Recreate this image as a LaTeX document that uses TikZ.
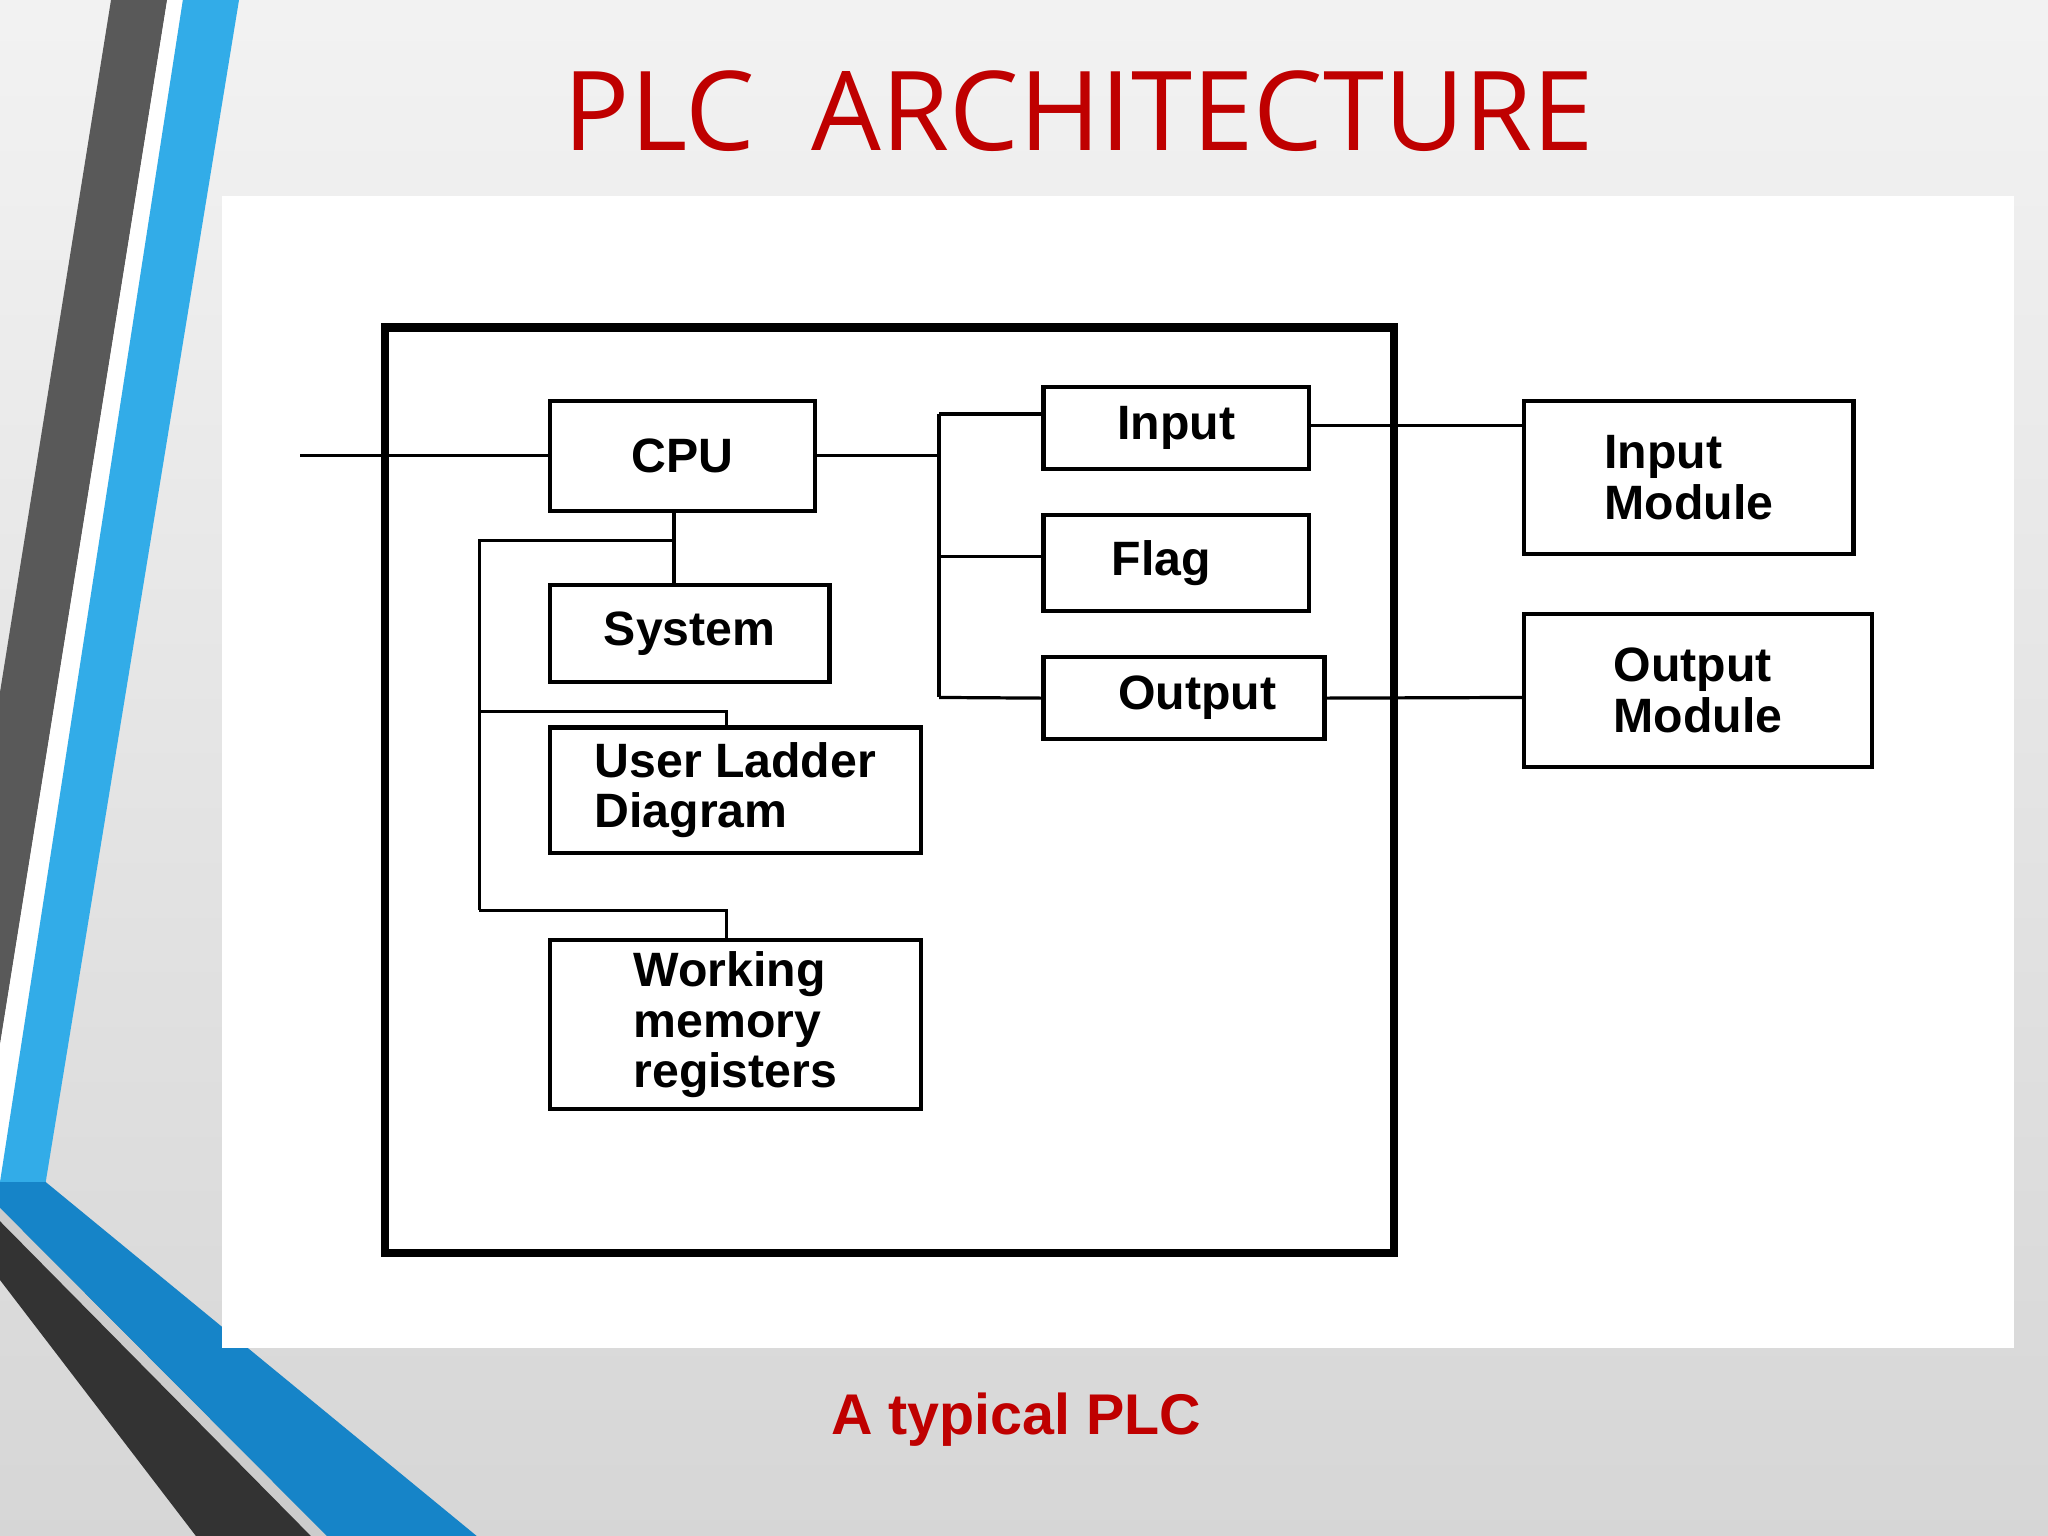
\documentclass[tikz,border=0pt]{standalone}
\usepackage{fontspec}
\setmainfont{Liberation Sans}
\newfontfamily\titlefont{Open Sans}
\definecolor{lblue}{RGB}{50,172,232}
\definecolor{dblue}{RGB}{22,132,200}
\begin{document}
\begin{tikzpicture}[x=0.01cm,y=-0.01cm,
  box/.style={draw,line width=0.9pt,inner sep=0pt,font=\bfseries\fontsize{10.5}{11}\selectfont,align=left},
  ln/.style={line width=0.7pt}]
\useasboundingbox (0,0) rectangle (1568,1176);
\shade[top color=white!95!black,bottom color=black!16] (0,0) rectangle (1568,1176);
% left decoration
\fill[black!65] (85,0) -- (128,0) -- (0,800) -- (0,530) -- cycle;
\fill[white] (128,0) -- (140,0) -- (5,905) -- (0,905) -- (0,800) -- cycle;
\fill[lblue] (140,0) -- (183,0) -- (35,905) -- (0,905) -- cycle;
\fill[dblue] (0,905) -- (35,905) -- (365,1176) -- (250,1176) -- (0,925) -- cycle;
\fill[white!80!black] (0,925) -- (250,1176) -- (238,1176) -- (0,935) -- cycle;
\fill[black!80] (0,935) -- (238,1176) -- (150,1176) -- (0,980) -- cycle;
% panel
\fill[white] (170,150) rectangle (1542,1032);
\node[font=\titlefont\fontsize{24}{28}\selectfont,text=red!75!black] (title) at (826,85) {PLC\ \ ARCHITECTURE};
\node[font=\bfseries\fontsize{12.5}{14}\selectfont,text=red!75!black] (cap) at (778,1087) {A typical PLC};
\node[draw,line width=1.8pt,minimum width=7.72cm,minimum height=7.08cm,inner sep=0pt] (plc) at (681,605) {};
\node[box,minimum width=2.03cm,minimum height=0.84cm] (cpu) at (522.5,349) {CPU};
\node[box,minimum width=2.14cm,minimum height=0.74cm] (sys) at (528,485) {System};
\node[box,minimum width=2.84cm,minimum height=0.96cm] (uld) at (563,605) {User Ladder\\Diagram};
\node[box,minimum width=2.84cm,minimum height=1.29cm] (wm) at (563,784.5) {Working\\memory\\registers};
\node[box,minimum width=2.03cm,minimum height=0.63cm] (inp) at (900.5,327.5) {Input};
\node[box,minimum width=2.03cm,minimum height=0.74cm] (flag) at (900.5,431) {Flag\phantom{p}};
\node[box,minimum width=2.15cm,minimum height=0.63cm] (outp) at (906.5,534.5) {\ \ Output};
\node[box,minimum width=2.52cm,minimum height=1.17cm] (im) at (1293,365.5) {Input\\Module};
\node[box,minimum width=2.66cm,minimum height=1.17cm] (om) at (1300,528.5) {Output\\Module};
\coordinate (ext) at (230,349);
\coordinate (bus) at (719,349);
\draw[ln] (ext) -- (cpu.west);
\draw[ln] (cpu.east) -- (bus);
\draw[ln] (719,317) -- (719,534);
\draw[ln] (719,317) -- (inp.west|-719,317);
\draw[ln] (719,426) -- (flag.west|-719,426);
\draw[ln] (719,534) -- (outp.west);
\draw[ln] (inp.east|-0,326) -- (im.west|-0,326);
\draw[ln] (outp.east) -- (om.west|-0,534);
\draw[ln] (cpu.south-|516,0) -- (sys.north-|516,0);
\draw[ln] (516,414) -- (367,414) -- (367,697);
\draw[ln] (367,545) -- (556,545) -- (uld.north-|556,0);
\draw[ln] (367,697) -- (556,697) -- (wm.north-|556,0);
\end{tikzpicture}
\end{document}
